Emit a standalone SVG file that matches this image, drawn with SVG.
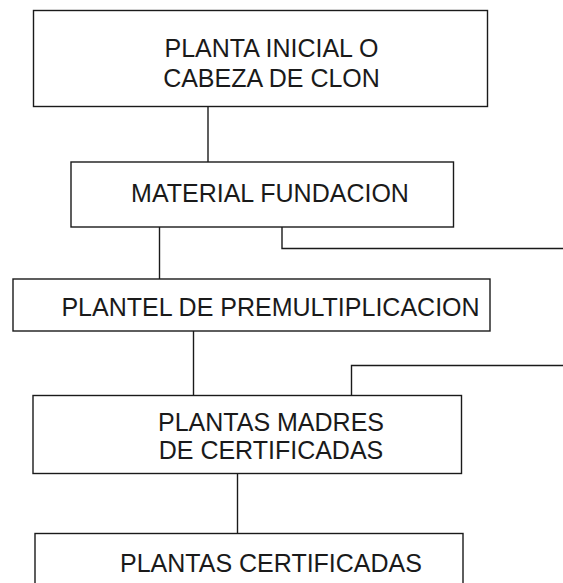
<svg xmlns="http://www.w3.org/2000/svg" width="563" height="583" viewBox="0 0 563 583">
<style>
.box{fill:#fff;stroke:#1a1a1a;stroke-width:1.4}
.lbl{font-family:"Liberation Sans",Arial,sans-serif;font-size:25px;fill:#1a1a1a;text-anchor:middle}
.con{fill:none;stroke:#1a1a1a;stroke-width:1.4}
</style>
<rect width="563" height="583" fill="#fff"/>
<g id="connectors">
<line class="con" x1="208" y1="107" x2="208" y2="162"/>
<line class="con" x1="159.5" y1="227" x2="159.5" y2="279"/>
<polyline class="con" points="282,227 282,248.5 563,248.5"/>
<line class="con" x1="193.5" y1="331" x2="193.5" y2="395.5"/>
<polyline class="con" points="351.5,395.5 351.5,365.5 563,365.5"/>
<line class="con" x1="237.5" y1="473" x2="237.5" y2="533.5"/>
</g>
<g id="n1">
<rect class="box" x="33.5" y="10.5" width="454" height="96"/>
<text class="lbl" x="271.5" y="57">PLANTA INICIAL O</text>
<text class="lbl" x="271.5" y="87">CABEZA DE CLON</text>
</g>
<g id="n2">
<rect class="box" x="71" y="162" width="382.5" height="65"/>
<text class="lbl" x="270" y="201.5">MATERIAL FUNDACION</text>
</g>
<g id="n3">
<rect class="box" x="13" y="279" width="477" height="52"/>
<text class="lbl" x="270.5" y="315.5">PLANTEL DE PREMULTIPLICACION</text>
</g>
<g id="n4">
<rect class="box" x="33" y="395.5" width="428.5" height="78"/>
<text class="lbl" x="271" y="430.5">PLANTAS MADRES</text>
<text class="lbl" x="271" y="459">DE CERTIFICADAS</text>
</g>
<g id="n5">
<rect class="box" x="35" y="533.5" width="428" height="60"/>
<text class="lbl" x="271" y="572">PLANTAS CERTIFICADAS</text>
</g>
</svg>
